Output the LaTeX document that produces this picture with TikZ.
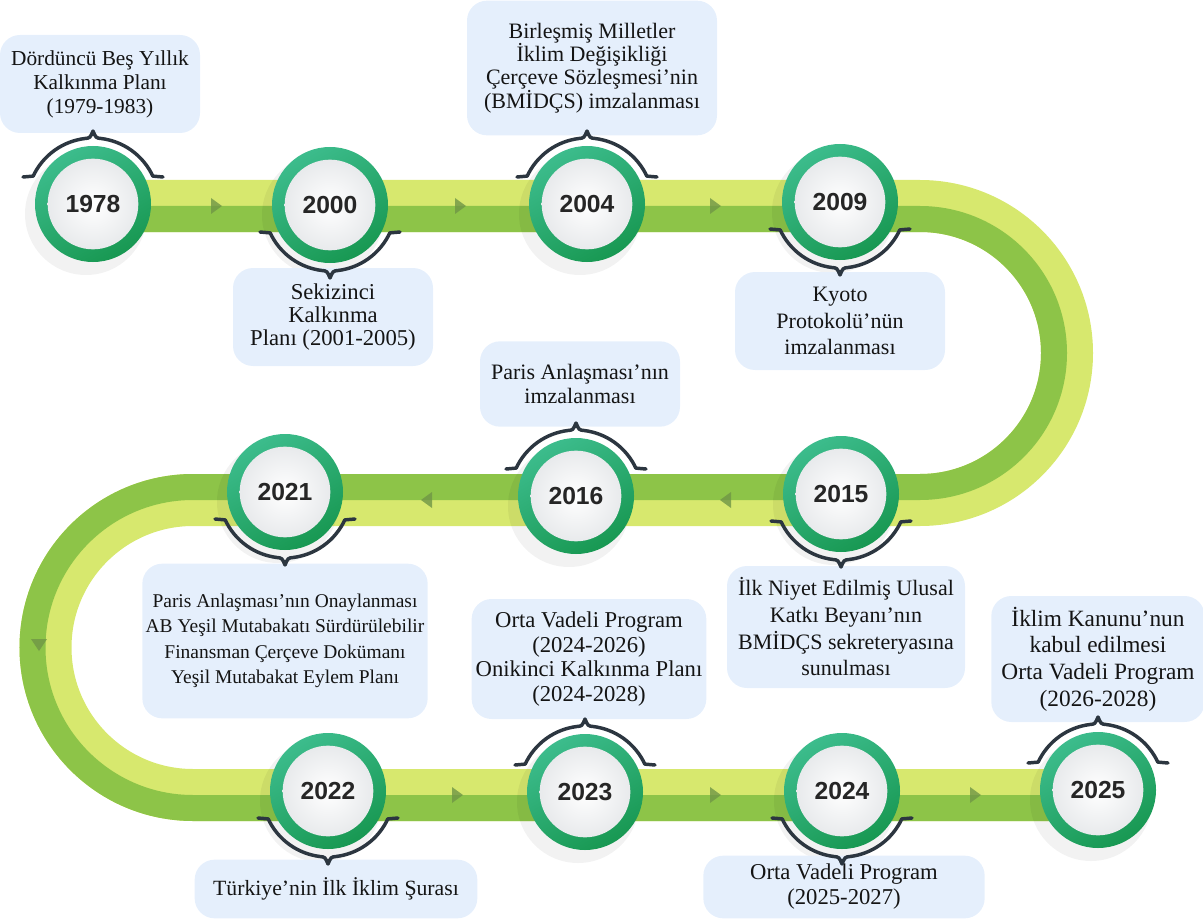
\documentclass[tikz,border=0pt]{standalone}
\usepackage{fontspec}
\setmainfont{Liberation Serif}
\newfontfamily\yearfont{Liberation Sans}
\definecolor{roadlt}{RGB}{215,232,110}
\definecolor{roaddk}{RGB}{141,196,72}
\definecolor{markgreen}{RGB}{112,150,70}
\definecolor{ringlt}{RGB}{60,188,140}
\definecolor{ringdk}{RGB}{24,152,82}
\definecolor{discgray}{RGB}{232,234,236}
\definecolor{yeartxt}{RGB}{38,38,38}
\definecolor{boxblue}{RGB}{229,239,252}
\definecolor{bracegray}{RGB}{44,54,64}
\begin{document}
\begin{tikzpicture}[x=0.75pt,y=0.75pt,yscale=-1,xscale=1,
  roadlight/.style={draw=roadlt, line width=39pt},
  roaddark/.style={draw=roaddk, line width=19.5pt},
  dirmark/.style={fill=markgreen, opacity=0.8},
  ringshadow/.style={fill=black, opacity=0.05},
  ringshade/.style={top color=ringlt, bottom color=ringdk, shading angle=30},
  yearnode/.style={circle, minimum size=68pt, inner sep=0pt, inner color=white, outer color=discgray, text=yeartxt, font=\yearfont\bfseries\fontsize{18.5}{20}\selectfont},
  infobox/.style={rounded corners=15pt, fill=boxblue, align=center, inner sep=0pt, text=black!92, font=\fontsize{16.5}{18.5}\selectfont},
  braceline/.style={draw=bracegray, line width=2.6pt, line cap=round, line join=round},
  brace/.pic={\draw[braceline] (-70,-27) -- (-155:66) arc[start angle=-155, end angle=-97, radius=66] .. controls (-3,-66) .. (0,-73) .. controls (3,-66) .. (-83:66) arc[start angle=-83, end angle=-25, radius=66] -- (70,-27);}
]
\path[use as bounding box] (0,0) rectangle (1203,920);

%Road light band
\draw[roadlight] (93,206) -- (920,206) arc[start angle=-90, end angle=90, radius=147] -- (193,500) arc[start angle=-90, end angle=-270, radius=147.5] -- (1098,795);
%Road dark band
\draw[roaddark] (93,219) -- (920,219) arc[start angle=-90, end angle=90, radius=134] -- (193,487) arc[start angle=-90, end angle=-270, radius=160.5] -- (1098,808);

%Direction marks
\fill[dirmark] (211,198) -- (222,206) -- (211,214) -- cycle;
\fill[dirmark] (455,198) -- (466,206) -- (455,214) -- cycle;
\fill[dirmark] (710,198) -- (721,206) -- (710,214) -- cycle;
\fill[dirmark] (731,492) -- (720,500) -- (731,508) -- cycle;
\fill[dirmark] (432,492) -- (421,500) -- (432,508) -- cycle;
\fill[dirmark] (31,639) -- (47,639) -- (39,651) -- cycle;
\fill[dirmark] (452,787) -- (463,795) -- (452,803) -- cycle;
\fill[dirmark] (710,787) -- (721,795) -- (710,803) -- cycle;
\fill[dirmark] (970,787) -- (981,795) -- (970,803) -- cycle;

%Circle shadows
\fill[ringshadow] (86,214) circle (61);
\fill[ringshadow] (323,215) circle (61);
\fill[ringshadow] (580,214) circle (61);
\fill[ringshadow] (833,212) circle (61);
\fill[ringshadow] (834,504) circle (61);
\fill[ringshadow] (569,506) circle (61);
\fill[ringshadow] (278,502) circle (61);
\fill[ringshadow] (321,801) circle (61);
\fill[ringshadow] (578,802) circle (61);
\fill[ringshadow] (835,801) circle (61);
\fill[ringshadow] (1091,800) circle (61);

%Circle rings
\shade[ringshade] (93,204) circle (58);
\shade[ringshade] (330,205) circle (58);
\shade[ringshade] (587,204) circle (58);
\shade[ringshade] (840,202) circle (58);
\shade[ringshade] (841,494) circle (58);
\shade[ringshade] (576,496) circle (58);
\shade[ringshade] (285,492) circle (58);
\shade[ringshade] (328,791) circle (58);
\shade[ringshade] (585,792) circle (58);
\shade[ringshade] (842,791) circle (58);
\shade[ringshade] (1098,790) circle (58);

% Year Nodes
\node[yearnode] (y1978) at (93,204) {1978};
\node[yearnode] (y2000) at (330,205) {2000};
\node[yearnode] (y2004) at (587,204) {2004};
\node[yearnode] (y2009) at (840,202) {2009};
\node[yearnode] (y2015) at (841,494) {2015};
\node[yearnode] (y2016) at (576,496) {2016};
\node[yearnode] (y2021) at (285,492) {2021};
\node[yearnode] (y2022) at (328,791) {2022};
\node[yearnode] (y2023) at (585,792) {2023};
\node[yearnode] (y2024) at (842,791) {2024};
\node[yearnode] (y2025) at (1098,790) {2025};

% Text Node
\node[infobox, minimum width=150pt, minimum height=73.5pt, font=\fontsize{16}{18}\selectfont] (b1978) at (100,84) {Dördüncü Beş Yıllık\\Kalkınma Planı\\(1979-1983)};
% Text Node
\node[infobox, minimum width=150pt, minimum height=73.5pt, font=\fontsize{17}{17.5}\selectfont] (b2000) at (333,317) {Sekizinci\\Kalkınma\\Planı (2001-2005)};
% Text Node
\node[infobox, minimum width=187.5pt, minimum height=101pt, font=\fontsize{16.5}{17.5}\selectfont] (b2004) at (592,68) {Birleşmiş Milletler\\İklim Değişikliği\\Çerçeve Sözleşmesi’nin\\(BMİDÇS) imzalanması};
% Text Node
\node[infobox, minimum width=157.5pt, minimum height=73.5pt, font=\fontsize{16.5}{20}\selectfont] (b2009) at (840,321) {Kyoto\\Protokolü’nün\\imzalanması};
% Text Node
\node[infobox, minimum width=150pt, minimum height=64pt, font=\fontsize{16.5}{18}\selectfont] (b2016) at (580,384) {Paris Anlaşması’nın\\imzalanması};
% Text Node
\node[infobox, minimum width=178.5pt, minimum height=91.5pt, font=\fontsize{16.5}{20}\selectfont] (b2015) at (846,627) {İlk Niyet Edilmiş Ulusal\\Katkı Beyanı’nın\\BMİDÇS sekreteryasına\\sunulması};
% Text Node
\node[infobox, minimum width=214pt, minimum height=116pt, font=\fontsize{14.6}{19}\selectfont] (b2021) at (285,641) {Paris Anlaşması’nın Onaylanması\\AB Yeşil Mutabakatı Sürdürülebilir\\Finansman Çerçeve Dokümanı\\Yeşil Mutabakat Eylem Planı};
% Text Node
\node[infobox, minimum width=176pt, minimum height=90pt, font=\fontsize{17}{18.3}\selectfont] (b2023) at (589,659) {Orta Vadeli Program\\(2024-2026)\\Onikinci Kalkınma Planı\\(2024-2028)};
% Text Node
\node[infobox, minimum width=160pt, minimum height=94.5pt, font=\fontsize{17.5}{20}\selectfont] (b2025) at (1098,659) {İklim Kanunu’nun\\kabul edilmesi\\Orta Vadeli Program\\(2026-2028)};
% Text Node
\node[infobox, minimum width=212pt, minimum height=44pt, font=\fontsize{16.3}{18}\selectfont] (b2022) at (336,889) {Türkiye’nin İlk İklim Şurası};
% Text Node
\node[infobox, minimum width=211pt, minimum height=47pt, font=\fontsize{17}{18.75}\selectfont] (b2024) at (844,887) {Orta Vadeli Program\\(2025-2027)};

%Brackets
\pic[yscale=-1] at (y1978.center) {brace};
\pic at (y2000.center) {brace};
\pic[yscale=-1] at (y2004.center) {brace};
\pic at (y2009.center) {brace};
\pic at (y2015.center) {brace};
\pic[yscale=-1] at (y2016.center) {brace};
\pic at (y2021.center) {brace};
\pic at (y2022.center) {brace};
\pic[yscale=-1] at (y2023.center) {brace};
\pic at (y2024.center) {brace};
\pic[yscale=-1] at (y2025.center) {brace};

\end{tikzpicture}
\end{document}
